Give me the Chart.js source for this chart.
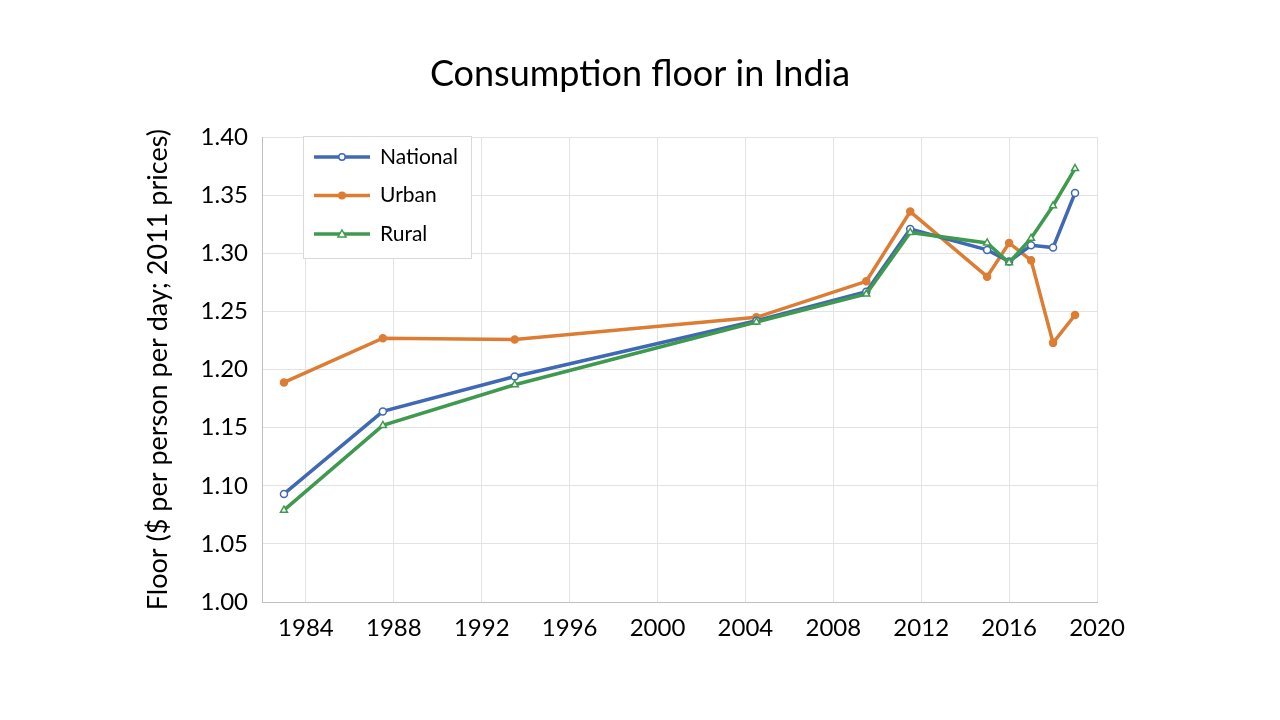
<!DOCTYPE html>
<html>
<head>
<meta charset="utf-8">
<script src="https://cdn.jsdelivr.net/npm/chart.js@4"></script>
<style>
  html, body { margin: 0; padding: 0; background: #fff; }
  #wrap { width: 1280px; height: 720px; }
</style>
</head>
<body>
<div id="wrap"><canvas id="chart" width="1280" height="720"></canvas></div>
<script>
// survey years (x) and consumption floor values
const years = [1983, 1987.5, 1993.5, 2004.5, 2009.5, 2011.5, 2015, 2016, 2017, 2018, 2019];
const national = [1.093, 1.164, 1.194, 1.242, 1.267, 1.321, 1.303, 1.293, 1.307, 1.305, 1.352];
const urban    = [1.189, 1.227, 1.226, 1.245, 1.276, 1.336, 1.280, 1.309, 1.294, 1.223, 1.247];
const rural    = [1.079, 1.152, 1.187, 1.241, 1.265, 1.318, 1.309, 1.292, 1.313, 1.341, 1.373];
const xTicks = [1984, 1988, 1992, 1996, 2000, 2004, 2008, 2012, 2016, 2020];

const FONT = 'Lato, "Open Sans", sans-serif';
const BLUE = '#3F68B5';
const ORANGE = '#DD7D33';
const GREEN = '#3F9A4F';

function pts(vals) {
  return years.map((y, i) => ({ x: y, y: vals[i] }));
}

// centre the title on the whole slide, not only on the plot
const slideTitle = {
  id: 'slideTitle',
  afterLayout(chart) {
    const t = chart.titleBlock;
    if (t) { t.left = 0; t.right = chart.width; t.width = chart.width; }
  }
};

// legend drawn inside the plot, boxed, like the original
const boxLegend = {
  id: 'boxLegend',
  afterDraw(chart) {
    const ctx = chart.ctx;
    const x0 = 303, y0 = 136, w = 168, h = 122;
    ctx.save();
    ctx.fillStyle = '#fff';
    ctx.fillRect(x0, y0, w, h);
    ctx.strokeStyle = '#d9d9d9';
    ctx.lineWidth = 1;
    ctx.strokeRect(x0 + 0.5, y0 + 0.5, w, h);
    chart.data.datasets.forEach((ds, i) => {
      const cy = 157 + i * 38.5;
      ctx.strokeStyle = ds.borderColor;
      ctx.lineWidth = 3.5;
      ctx.beginPath();
      ctx.moveTo(314, cy);
      ctx.lineTo(370, cy);
      ctx.stroke();
      ctx.fillStyle = ds.pointBackgroundColor;
      ctx.strokeStyle = ds.pointBorderColor;
      ctx.lineWidth = 1.5;
      ctx.beginPath();
      if (ds.pointStyle === 'triangle') {
        ctx.moveTo(342, cy - 4);
        ctx.lineTo(346, cy + 3);
        ctx.lineTo(338, cy + 3);
        ctx.closePath();
      } else {
        ctx.arc(342, cy, 3.2, 0, Math.PI * 2);
      }
      ctx.fill();
      ctx.stroke();
      ctx.fillStyle = '#000';
      ctx.font = '21px ' + FONT;
      ctx.textBaseline = 'middle';
      ctx.fillText(ds.label, 380, cy);
    });
    ctx.restore();
  }
};

const ctx = document.getElementById('chart').getContext('2d');
new Chart(ctx, {
  type: 'line',
  data: {
    datasets: [
      { label: 'National', data: pts(national), borderColor: BLUE, borderWidth: 3.5,
        pointStyle: 'circle', pointRadius: 3.5, pointBorderWidth: 1.5,
        pointBackgroundColor: '#fff', pointBorderColor: BLUE, tension: 0, order: 1 },
      { label: 'Urban', data: pts(urban), borderColor: ORANGE, borderWidth: 3.5,
        pointStyle: 'circle', pointRadius: 3.5, pointBorderWidth: 1.5,
        pointBackgroundColor: ORANGE, pointBorderColor: ORANGE, tension: 0, order: 2 },
      { label: 'Rural', data: pts(rural), borderColor: GREEN, borderWidth: 3.5,
        pointStyle: 'triangle', pointRadius: 4, pointBorderWidth: 1.5,
        pointBackgroundColor: '#fff', pointBorderColor: GREEN, tension: 0, order: 0 }
    ]
  },
  options: {
    responsive: false,
    animation: false,
    layout: { padding: { left: 0, right: 183, top: 0, bottom: 0 } },
    plugins: {
      legend: { display: false },
      tooltip: { enabled: false },
      title: {
        display: true,
        text: 'Consumption floor in India',
        color: '#000',
        font: { family: FONT, size: 36, weight: 'normal' },
        padding: { top: 53, bottom: 41 }
      }
    },
    scales: {
      x: {
        type: 'linear',
        min: 1982,
        max: 2020,
        afterBuildTicks: (s) => { s.ticks = xTicks.map(v => ({ value: v })); },
        afterFit: (s) => { s.height = 118; },
        grid: { color: '#e3e3e3', drawTicks: false },
        border: { color: '#bfbfbf', width: 1 },
        ticks: {
          color: '#000', padding: 12, maxRotation: 0, autoSkip: false,
          font: { family: FONT, size: 24 },
          callback: (v) => String(v)
        }
      },
      y: {
        min: 1.0,
        max: 1.4,
        afterFit: (s) => { s.width = 262; },
        grid: { color: '#e3e3e3', drawTicks: false },
        border: { color: '#bfbfbf', width: 1 },
        ticks: {
          stepSize: 0.05, color: '#000', padding: 14,
          font: { family: FONT, size: 24 },
          callback: (v) => v.toFixed(2)
        },
        title: {
          display: true,
          text: 'Floor ($ per person per day; 2011 prices)',
          color: '#000',
          font: { family: FONT, size: 27 },
          padding: { top: 142, bottom: 0 }
        }
      }
    }
  },
  plugins: [slideTitle, boxLegend]
});
</script>
</body>
</html>
